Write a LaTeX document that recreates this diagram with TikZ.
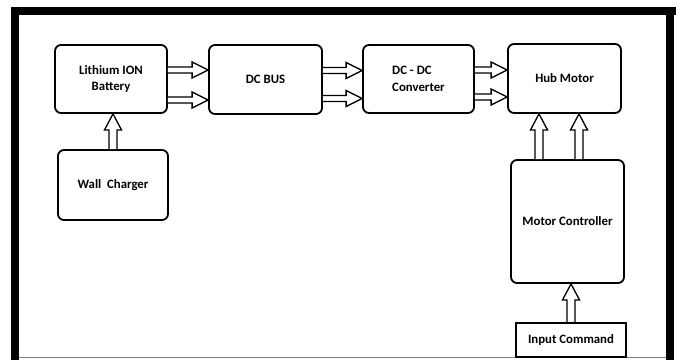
\documentclass[tikz,border=0pt]{standalone}
\usepackage{fontspec}
\setmainfont{Carlito}
\usetikzlibrary{calc}

\tikzset{
  block/.style={draw, line width=1.8pt, rounded corners=6pt, align=center,
    font=\bfseries\fontsize{12.8}{16.5}\selectfont},
  fat/.style={line width=1.3pt, fill=white, line join=miter}
}
% hollow block arrows (right and up), shifted by the third argument
\newcommand{\rarrow}[3]{%
  \draw[fat] ($(#1.east)+(0,#3+3)$) -- ($(#1.east -| #2.west)+(-16,#3+3)$)
    -- ($(#1.east -| #2.west)+(-16,#3+8)$) -- ($(#1.east -| #2.west)+(0,#3)$)
    -- ($(#1.east -| #2.west)+(-16,#3-8)$) -- ($(#1.east -| #2.west)+(-16,#3-3)$)
    -- ($(#1.east)+(0,#3-3)$);}
\newcommand{\uarrow}[3]{%
  \draw[fat] ($(#1.north)+(#3-4,0)$) -- ($(#1.north |- #2.south)+(#3-4,-16)$)
    -- ($(#1.north |- #2.south)+(#3-8.5,-16)$) -- ($(#1.north |- #2.south)+(#3,0)$)
    -- ($(#1.north |- #2.south)+(#3+8.5,-16)$) -- ($(#1.north |- #2.south)+(#3+4,-16)$)
    -- ($(#1.north)+(#3+4,0)$);}

\begin{document}
\begin{tikzpicture}[x=1pt,y=1pt]
\useasboundingbox (0,0) rectangle (676,360);
% frame
\fill (11,345) rectangle (676,353);
\fill (11,0) rectangle (19,353);
\fill (666,0) rectangle (674,353);
\draw[gray, line width=1pt] (19,2.5) -- (666,2.5);

\node[block, minimum width=112, minimum height=68] (bat) at (111,281) {Lithium ION\\Battery};
\node[block, minimum width=113, minimum height=69] (bus) at (265.5,280.5) {DC BUS};
\node[block, minimum width=111, minimum height=68, align=left] (conv) at (418.5,281) {DC - DC\\Converter};
\node[block, minimum width=113, minimum height=69] (hub) at (564.5,281.5) {Hub Motor};
\node[block, minimum width=110, minimum height=70] (wall) at (113,175) {Wall\ \ Charger};
\node[block, minimum width=113, minimum height=123] (ctrl) at (567.5,138.5) {Motor Controller};
\node[block, rounded corners=0pt, line width=2.2pt, minimum width=110, minimum height=34] (cmd) at (571,20) {Input Command};

\rarrow{bat}{bus}{9}
\rarrow{bat}{bus}{-21}
\rarrow{bus}{conv}{9}
\rarrow{bus}{conv}{-19}
\rarrow{conv}{hub}{9}
\rarrow{conv}{hub}{-18}
\uarrow{wall}{bat}{0}
\uarrow{ctrl}{hub}{-28.5}
\uarrow{ctrl}{hub}{11.5}
\uarrow{cmd}{ctrl}{0}
\end{tikzpicture}
\end{document}
